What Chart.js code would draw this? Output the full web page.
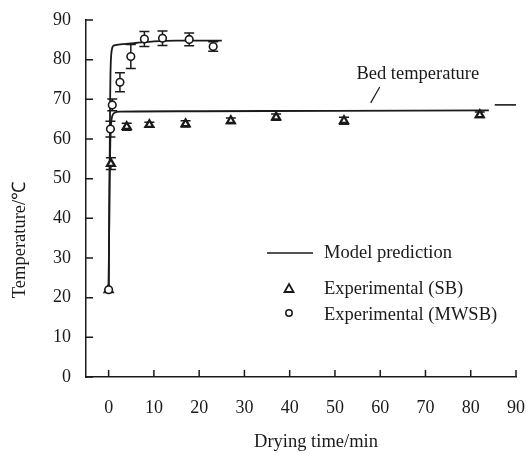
<!DOCTYPE html>
<html>
<head>
<meta charset="utf-8">
<script src="https://cdn.jsdelivr.net/npm/chart.js@4/dist/chart.umd.min.js"></script>
<style>
  html, body { margin: 0; background: #fff; }
  #wrap { width: 527px; height: 454px; }
</style>
</head>
<body>
<div id="wrap"><canvas id="chart"></canvas></div>
<script>
// axis ticks
const xTicks = [0, 10, 20, 30, 40, 50, 60, 70, 80, 90]
const yTicks = [0, 10, 20, 30, 40, 50, 60, 70, 80, 90]

// experimental, MWSB (circles)
const mwsbTime = [0, 0.4, 0.8, 2.5, 4.9, 7.9, 11.9, 17.8, 23.1]
const mwsbTemp = [22, 62.5, 68.6, 74.3, 80.8, 85.2, 85.4, 85.1, 83.3]
const mwsbErr  = [0, 2, 1.5, 2.4, 3, 1.9, 1.8, 1.6, 1.2]

// experimental, SB (triangles)
const sbTime = [0, 0.5, 4, 9, 17, 27, 37, 52, 82]
const sbTemp = [22, 53.8, 63.1, 63.6, 63.8, 64.6, 65.5, 64.6, 66.1]
const sbErr  = [0, 1.5, 0.9, 0.6, 0.8, 0.7, 0.8, 0.9, 0.7]

// model prediction curves
const mwsbModelTime = [0, 0.1, 0.2, 0.3, 0.4, 0.55, 0.8, 1.2, 3, 6, 10, 15, 25]
const mwsbModelTemp = [22, 35, 50, 65, 76, 81, 83, 83.6, 83.9, 84.2, 84.6, 84.8, 84.8]
const sbModelTime = [0, 0.1, 0.2, 0.35, 0.5, 0.8, 1.3, 2.5, 20, 50, 84]
const sbModelTemp = [22, 35, 48, 58, 63.5, 65.8, 66.6, 66.9, 67.0, 67.1, 67.2]

// short mark at the right edge
const edgeTime = [85.3, 90]
const edgeTemp = [68.6, 68.6]

const FONT = '"Liberation Serif", "Times New Roman", serif'
const INK = '#1a1a1a'

function pts(xs, ys) {
  return xs.map((x, i) => ({ x: x, y: ys[i] }))
}

const extras = {
  id: 'extras',
  beforeDatasetsDraw(chart) {
    const ctx = chart.ctx
    const xs = chart.scales.x, ys = chart.scales.y
    ctx.save()
    ctx.strokeStyle = INK
    ctx.lineWidth = 1.5
    const bars = [[mwsbTime, mwsbTemp, mwsbErr, 5], [sbTime, sbTemp, sbErr, 5]]
    bars.forEach(([tx, ty, te, cap]) => {
      tx.forEach((t, i) => {
        if (!te[i]) return
        const px = xs.getPixelForValue(t)
        const top = ys.getPixelForValue(ty[i] + te[i])
        const bot = ys.getPixelForValue(ty[i] - te[i])
        ctx.beginPath()
        ctx.moveTo(px, top); ctx.lineTo(px, bot)
        ctx.moveTo(px - cap, top); ctx.lineTo(px + cap, top)
        ctx.moveTo(px - cap, bot); ctx.lineTo(px + cap, bot)
        ctx.stroke()
      })
    })
    ctx.restore()
  },
  afterDraw(chart) {
    const ctx = chart.ctx
    const xs = chart.scales.x, ys = chart.scales.y
    const area = chart.chartArea
    ctx.save()
    ctx.strokeStyle = INK
    ctx.fillStyle = INK
    ctx.lineWidth = 1.5

    // inward ticks
    ctx.beginPath()
    xTicks.forEach(v => {
      const p = xs.getPixelForValue(v)
      ctx.moveTo(p, area.bottom); ctx.lineTo(p, area.bottom - 7)
    })
    yTicks.forEach(v => {
      const p = ys.getPixelForValue(v)
      ctx.moveTo(area.left, p); ctx.lineTo(area.left + 7, p)
    })
    ctx.stroke()

    // axis titles
    ctx.font = '18.5px ' + FONT
    ctx.textAlign = 'center'
    ctx.textBaseline = 'middle'
    ctx.fillText('Drying time/min', 316, 442)
    ctx.save()
    ctx.translate(20, 240)
    ctx.rotate(-Math.PI / 2)
    ctx.fillText('Temperature/\u2103', 0, 0)
    ctx.restore()

    // bed temperature annotation
    ctx.lineWidth = 1.2
    ctx.beginPath()
    ctx.moveTo(xs.getPixelForValue(57.9), ys.getPixelForValue(69.1))
    ctx.lineTo(xs.getPixelForValue(59.9), ys.getPixelForValue(73.1))
    ctx.stroke()
    ctx.fillText('Bed temperature', xs.getPixelForValue(68.3), ys.getPixelForValue(76.4))

    // legend
    const lx = 267, tx = 324
    const rows = [253, 289, 315]
    ctx.textAlign = 'left'
    ctx.lineWidth = 1.5
    ctx.beginPath()
    ctx.moveTo(lx, rows[0]); ctx.lineTo(lx + 46, rows[0])
    ctx.stroke()
    ctx.fillText('Model prediction', tx, rows[0])
    // triangle
    const mx = lx + 22
    ctx.lineWidth = 1.8
    ctx.beginPath()
    ctx.moveTo(mx, rows[1] - 5)
    ctx.lineTo(mx + 4.5, rows[1] + 3)
    ctx.lineTo(mx - 4.5, rows[1] + 3)
    ctx.closePath()
    ctx.stroke()
    ctx.fillText('Experimental (SB)', tx, rows[1])
    // circle
    ctx.lineWidth = 1.5
    ctx.beginPath()
    ctx.arc(mx, rows[2] - 2, 3.2, 0, Math.PI * 2)
    ctx.stroke()
    ctx.fillText('Experimental (MWSB)', tx, rows[2])
    ctx.restore()
  }
}

new Chart(document.getElementById('chart'), {
  type: 'scatter',
  data: {
    datasets: [
      {
        label: 'Experimental (MWSB)',
        data: pts(mwsbTime, mwsbTemp),
        pointStyle: 'circle',
        pointRadius: 3.8,
        borderWidth: 1.6,
        borderColor: INK,
        backgroundColor: '#fff'
      },
      {
        label: 'Experimental (SB)',
        data: pts(sbTime, sbTemp),
        pointStyle: 'triangle',
        pointRadius: 4.5,
        borderWidth: 2.3,
        borderColor: INK,
        backgroundColor: '#fff'
      },
      {
        label: 'Model MWSB',
        data: pts(mwsbModelTime, mwsbModelTemp),
        showLine: true,
        pointRadius: 0,
        borderWidth: 1.8,
        borderColor: INK,
        tension: 0.3
      },
      {
        label: 'Model SB',
        data: pts(sbModelTime, sbModelTemp),
        showLine: true,
        pointRadius: 0,
        borderWidth: 1.8,
        borderColor: INK,
        tension: 0.3
      },
      {
        label: 'edge',
        data: pts(edgeTime, edgeTemp),
        showLine: true,
        pointRadius: 0,
        borderWidth: 1.6,
        borderColor: INK,
        clip: false
      }
    ]
  },
  options: {
    responsive: true,
    maintainAspectRatio: false,
    animation: false,
    devicePixelRatio: 1,
    layout: { padding: { left: 0, right: 11, top: 20, bottom: 0 } },
    plugins: {
      legend: { display: false },
      tooltip: { enabled: false }
    },
    scales: {
      x: {
        type: 'linear',
        min: -5,
        max: 90,
        afterBuildTicks: s => { s.ticks = xTicks.map(v => ({ value: v })) },
        afterFit: s => { s.height = 77; s.paddingLeft = 0; s.paddingRight = 0 },
        grid: { display: false },
        border: { display: true, color: INK, width: 1.5 },
        ticks: { color: INK, font: { family: FONT, size: 18 }, padding: 12, maxRotation: 0 }
      },
      y: {
        type: 'linear',
        min: 0,
        max: 90,
        afterBuildTicks: s => { s.ticks = yTicks.map(v => ({ value: v })) },
        afterFit: s => { s.width = 86; s.paddingTop = 0; s.paddingBottom = 0 },
        grid: { display: false },
        border: { display: true, color: INK, width: 1.5 },
        ticks: { color: INK, font: { family: FONT, size: 18 }, padding: 7 }
      }
    }
  },
  plugins: [extras]
})
</script>
</body>
</html>
